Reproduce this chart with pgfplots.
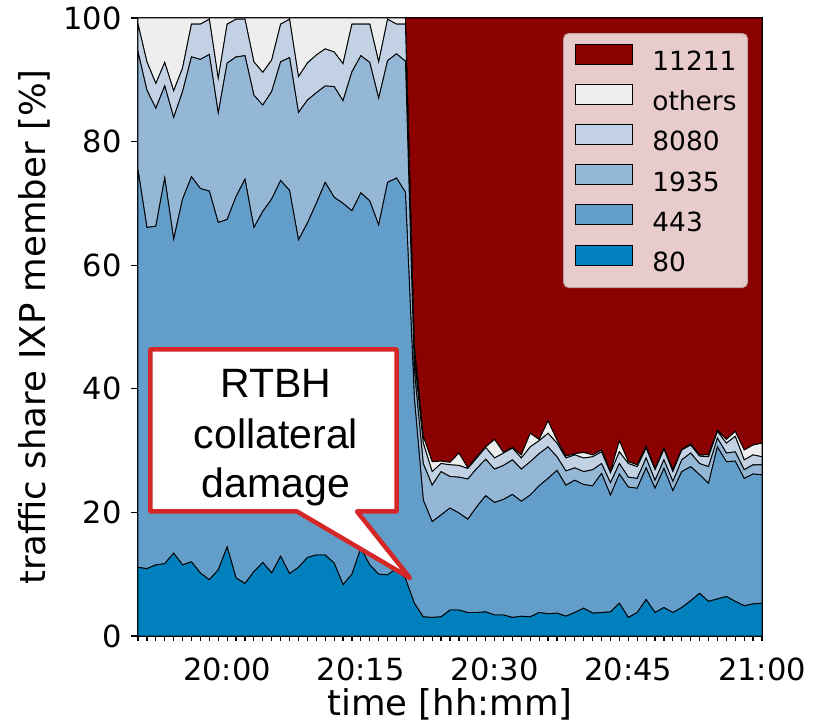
\documentclass[border=0pt]{standalone}
\usepackage{pgfplots}
\pgfplotsset{compat=1.18}
\usepackage{pgfplotstable}
\usepackage{fontspec}
\setmainfont{DejaVu Sans}
\newfontfamily\calloutfont{Liberation Sans}

\definecolor{c80}{RGB}{0,129,189}
\definecolor{c443}{RGB}{99,158,203}
\definecolor{c1935}{RGB}{148,183,214}
\definecolor{c8080}{RGB}{194,210,228}
\definecolor{cothers}{RGB}{238,238,238}
\definecolor{c11211}{RGB}{139,0,0}
\definecolor{legfill}{RGB}{232,204,204}
\definecolor{legedge}{RGB}{191,163,163}
\definecolor{calloutred}{RGB}{214,39,40}

% traffic share per source port / member [%], one row per minute from 19:50
\pgfplotstableread{
t  p80  p443 p1935 p8080 oth  p11211
0  11.1 64.3 19.1  4.5   1.0  0.0
1  10.9 55.2 22.2  4.6   7.1  0.0
2  11.5 54.8 19.1  4.0  10.6  0.0
3  11.7 62.4 14.9  3.8   7.2  0.0
4  13.4 50.8 19.7  4.3  11.8  0.0
5  11.5 59.2 17.4  3.8   8.1  0.0
6  12.0 62.3 19.4  5.3   1.0  0.0
7  10.2 62.2 20.9  5.7   1.0  0.0
8   9.1 62.9 22.1  5.7   0.2  0.0
9  10.7 56.2 17.7  5.6   9.8  0.0
10 14.4 53.0 25.3  6.3   1.0  0.0
11  9.4 61.7 22.6  6.1   0.2  0.0
12  8.5 65.4 20.0  5.9   0.2  0.0
13 10.4 55.7 21.4  5.4   7.1  0.0
14 11.9 56.8 17.2  5.3   8.8  0.0
15 10.2 60.5 17.4  5.1   6.8  0.0
16 12.9 60.8 19.2  6.1   1.0  0.0
17 10.1 62.0 21.5  6.2   0.2  0.0
18 11.1 53.0 20.6  5.8   9.5  0.0
19 12.7 54.1 19.9  6.0   7.3  0.0
20 13.1 56.9 17.9  6.1   6.0  0.0
21 13.1 60.3 15.6  6.0   5.0  0.0
22 11.8 59.2 17.9  5.6   5.5  0.0
23  8.3 61.7 16.6  6.0   7.4  0.0
24 10.0 58.8 22.5  7.7   1.0  0.0
25 14.2 57.5 22.2  5.1   1.0  0.0
26 11.5 58.9 22.4  6.2   1.0  0.0
27 10.0 56.5 20.5  5.9   7.1  0.0
28  9.9 63.5 19.7  6.7   0.2  0.0
29 10.9 63.2 20.1  4.8   1.0  0.0
30  9.3 62.5 21.2  6.0   1.0  0.0
31  5.3 33.2  4.5  2.0   2.0 53.0
32  3.1 18.9  5.9  3.3   1.1 67.7
33  3.0 15.5  5.9  2.2   1.6 71.8
34  3.1 16.5  7.0  1.3   0.4 71.7
35  4.2 16.5  5.1  1.9   0.4 71.9
36  4.2 15.7  5.8  1.9   2.0 70.4
37  3.8 15.1  6.5  1.7   0.1 72.8
38  3.8 17.1  6.2  1.7   0.2 71.0
39  3.9 18.8  5.9  1.9   0.1 69.4
40  3.4 18.2  5.4  1.8   3.0 68.2
41  3.4 18.7  5.5  2.0   0.1 70.3
42  3.0 19.9  5.6  1.9   0.1 69.5
43  3.2 18.6  5.2  1.8   0.5 70.7
44  3.1 19.7  5.4  2.4   2.2 67.2
45  3.8 20.5  5.2  2.1   0.2 68.2
46  3.6 21.9  5.1  2.2   2.0 65.2
47  3.7 23.1  2.2  2.2   0.5 68.3
48  3.2 21.2  2.3  2.1   0.3 70.9
49  3.8 21.4  2.0  2.1   0.2 70.5
50  4.5 20.0  2.1  2.2   0.9 70.3
51  3.7 20.6  2.6  2.1   0.3 70.7
52  3.8 22.5  1.6  1.9   0.3 69.9
53  3.9 18.9  2.0  1.6   0.2 73.4
54  5.3 20.9  1.7  1.9   1.8 68.4
55  3.0 21.1  1.6  2.2   0.3 71.8
56  3.8 20.1  1.6  1.9   0.3 72.3
57  5.9 21.3  1.6  1.6   0.3 69.3
58  3.8 20.1  1.3  1.7   0.2 72.9
59  4.6 22.5  1.4  1.7   0.2 69.6
60  3.8 19.7  1.5  1.6   0.3 73.1
61  4.6 22.0  1.9  1.6   0.1 69.8
62  5.7 21.7  2.2  1.3   0.2 68.9
63  6.9 19.2  1.8  1.2   0.2 70.7
64  5.6 19.1  2.7  1.6   0.3 70.7
65  6.0 24.6  1.4  1.1   0.2 66.7
66  6.4 21.8  1.4  1.6   0.6 68.2
67  5.6 22.7  1.5  2.5   0.8 66.9
68  4.9 20.6  1.4  1.6   1.6 69.9
69  5.2 21.0  1.5  1.6   1.6 69.1
70  5.3 20.8  1.6  1.3   2.2 68.8
}\shares

\begin{document}
\begin{tikzpicture}
\useasboundingbox (-138pt,-89pt) rectangle (681pt,636pt);
\begin{axis}[
  scale only axis, width=624pt, height=618pt,
  xmin=0, xmax=70, ymin=0, ymax=100,
  stack plots=y,
  axis line style={line width=1.3pt},
  xtick={10,25,40,55,70},
  xticklabels={20:00,20:15,20:30,20:45,21:00},
  minor xtick={0,1,...,70},
  ytick={0,20,40,60,80,100},
  tick align=outside,
  xtick pos=bottom, ytick pos=left,
  major tick length=7pt, minor tick length=4.5pt,
  tick style={black, line width=1.2pt},
  major x tick style={draw=none},
  ticklabel style={font=\fontsize{30.5}{36}\selectfont},
  /pgf/number format/assume math mode=true,
  xticklabel style={anchor=base, inner sep=0pt, yshift=-37pt},
  yticklabel style={anchor=east, inner sep=0pt, xshift=-9pt},
  xlabel={time [hh:mm]},
  ylabel={traffic share IXP member [\%]},
  every axis x label/.style={at={(rel axis cs:0.5,0)}, yshift=-79pt, anchor=base,
    font=\fontsize{35.5}{42}\selectfont},
  every axis y label/.style={at={(rel axis cs:0,0.5)}, xshift=-104pt, rotate=90, anchor=center,
    font=\fontsize{35.5}{42}\selectfont},
  reverse legend,
  legend cell align=left,
  legend image code/.code={
    \draw[#1, sharp corners, line width=0.8pt] (0pt,-0.4pt) rectangle (57pt,19.6pt);
  },
  legend style={at={(rel axis cs:0.9776,0.9757)}, anchor=north east,
    fill=legfill, draw=legedge, line width=1pt, rounded corners=5pt,
    inner xsep=11pt, inner ysep=10pt, row sep=7.2pt,
    font=\fontsize{26.4}{30}\selectfont,
    /tikz/every odd column/.append style={column sep=20pt},
    nodes={inner sep=0pt, text height=20pt, text depth=6pt}},
]
\addplot[fill=c80, draw=black, line width=0.9pt] table[x=t, y=p80] {\shares} \closedcycle;
\addlegendentry{80}
\addplot[fill=c443, draw=black, line width=0.9pt] table[x=t, y=p443] {\shares} \closedcycle;
\addlegendentry{443}
\addplot[fill=c1935, draw=black, line width=0.9pt] table[x=t, y=p1935] {\shares} \closedcycle;
\addlegendentry{1935}
\addplot[fill=c8080, draw=black, line width=0.9pt] table[x=t, y=p8080] {\shares} \closedcycle;
\addlegendentry{8080}
\addplot[fill=cothers, draw=black, line width=0.9pt] table[x=t, y=oth] {\shares} \closedcycle;
\addlegendentry{others}
\addplot[fill=c11211, draw=black, line width=0.9pt] table[x=t, y=p11211] {\shares} \closedcycle;
\addlegendentry{11211}

% anchor points of the speech bubble
\coordinate (bTL) at (axis cs:1.40,46.36);
\coordinate (bBR) at (axis cs:29.0,20.15);
\coordinate (bP1) at (axis cs:24.57,20.15);
\coordinate (bTip) at (axis cs:30.51,9.39);
\coordinate (bP2) at (axis cs:17.84,20.15);
\coordinate (tRTBH) at (axis cs:15.48,38.67);
\coordinate (tColl) at (axis cs:15.48,30.42);
\coordinate (tDam) at (axis cs:15.48,22.33);
\end{axis}

% speech-bubble annotation
\draw[calloutred, line width=4.5pt, fill=white, line join=round]
  (bTL) -- (bTL -| bBR) -- (bBR) -- (bP1) -- (bTip) -- (bP2)
  -- (bBR -| bTL) -- cycle;
\begin{scope}[every node/.style={anchor=base, inner sep=0pt,
    font=\calloutfont\fontsize{41}{50}\selectfont}]
  \node at (tRTBH) {RTBH};
  \node at (tColl) {collateral};
  \node at (tDam) {damage};
\end{scope}
\end{tikzpicture}
\end{document}
